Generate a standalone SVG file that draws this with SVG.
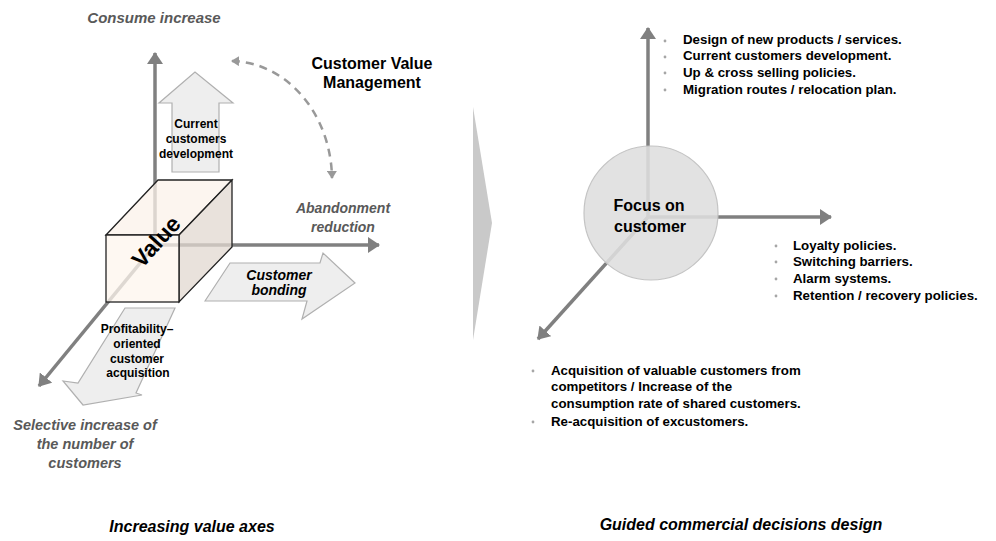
<svg xmlns="http://www.w3.org/2000/svg" width="996" height="541" viewBox="0 0 996 541">
<style>
.axis{stroke:#808080;stroke-width:3.5;fill:none}
.gl{font-family:"Liberation Sans",Arial,sans-serif;font-weight:bold;font-style:italic;fill:#595959}
.tt{font-family:"Liberation Sans",Arial,sans-serif;font-weight:bold;fill:#000}
.it{font-family:"Liberation Sans",Arial,sans-serif;font-weight:bold;font-style:italic;fill:#000}
.bl{font-family:"Liberation Sans",Arial,sans-serif;font-weight:bold;fill:#000;font-size:13.3px}
.dot{fill:#a6a6a6}
.blk{fill:#eeeeee;stroke:#b0b0b0;stroke-width:1.2}
</style>
<defs>
<marker id="ah" viewBox="0 0 12 16" refX="11" refY="8" markerWidth="12" markerHeight="16" markerUnits="userSpaceOnUse" orient="auto">
<path d="M0,0 L12,8 L0,16 z" fill="#808080"/>
</marker>
<marker id="dh" viewBox="0 0 8 10" refX="7" refY="5" markerWidth="8" markerHeight="10" markerUnits="userSpaceOnUse" orient="auto-start-reverse">
<path d="M0,0 L8,5 L0,10 z" fill="#999"/>
</marker>
</defs>

<g id="connectors">
<line class="axis" x1="155" y1="247" x2="155" y2="53" marker-end="url(#ah)"/>
<line class="axis" x1="155" y1="245" x2="379" y2="245" marker-end="url(#ah)"/>
<line class="axis" x1="155" y1="245" x2="39" y2="386" marker-end="url(#ah)"/>
<path d="M232,61 A102,119 0 0 1 332,178" fill="none" stroke="#999" stroke-width="2.5" stroke-dasharray="8 6" marker-start="url(#dh)" marker-end="url(#dh)"/>
<line class="axis" x1="648" y1="217" x2="648" y2="28" marker-end="url(#ah)"/>
<line class="axis" x1="648" y1="217" x2="831" y2="217" marker-end="url(#ah)"/>
<line class="axis" x1="648" y1="217" x2="538" y2="339" marker-end="url(#ah)"/>
</g>

<g id="title-consume"><text class="gl" font-size="15" x="154" y="23" text-anchor="middle">Consume increase</text></g>
<g id="title-cvm">
<text class="tt" font-size="16" x="372" y="69" text-anchor="middle">Customer Value</text>
<text class="tt" font-size="16" x="372" y="88" text-anchor="middle">Management</text>
</g>

<g id="arrow-development">
<polygon class="blk" points="172,172 172,103 159,103 195,72 233,103 219,103 219,172"/>
<text class="tt" font-size="12" x="196" y="128" text-anchor="middle">Current</text>
<text class="tt" font-size="12" x="196" y="143" text-anchor="middle">customers</text>
<text class="tt" font-size="12" x="196" y="158" text-anchor="middle">development</text>
</g>

<g id="cube">
<polygon points="106,235 158,180 232,180 179,235" fill="#fbf2ea" fill-opacity="0.75" stroke="#222" stroke-width="1.3"/>
<polygon points="179,235 232,180 232,247 179,302" fill="#e2d8d0" fill-opacity="0.75" stroke="#222" stroke-width="1.3"/>
<rect x="106" y="235" width="73" height="67" fill="#fdf5ee" fill-opacity="0.75" stroke="#222" stroke-width="1.3"/>
<text class="tt" font-size="23" transform="translate(162,247) rotate(-48)" text-anchor="middle">Value</text>
</g>

<g id="label-abandonment">
<text class="gl" font-size="14" x="343" y="213" text-anchor="middle">Abandonment</text>
<text class="gl" font-size="14" x="343" y="232" text-anchor="middle">reduction</text>
</g>

<g id="arrow-bonding">
<polygon class="blk" points="205,301 230,263 320,263 323,253 355,283 302,319 307,301"/>
<text class="it" font-size="14" x="279" y="280" text-anchor="middle">Customer</text>
<text class="it" font-size="14" x="279" y="295" text-anchor="middle">bonding</text>
</g>

<g id="arrow-acquisition">
<polygon class="blk" points="125,308 175,308 136,393 142,395 83,405 63,381 78,383"/>
<text class="tt" font-size="12" x="137" y="333" text-anchor="middle">Profitability–</text>
<text class="tt" font-size="12" x="137" y="348" text-anchor="middle">oriented</text>
<text class="tt" font-size="12" x="137" y="363" text-anchor="middle">customer</text>
<text class="tt" font-size="12" x="138" y="377" text-anchor="middle">acquisition</text>
</g>

<g id="label-selective">
<text class="gl" font-size="14.5" x="85" y="430" text-anchor="middle">Selective increase of</text>
<text class="gl" font-size="14.5" x="85" y="449" text-anchor="middle">the number of</text>
<text class="gl" font-size="14.5" x="85" y="468" text-anchor="middle">customers</text>
</g>

<g id="caption-left"><text class="it" font-size="16" x="192" y="532" text-anchor="middle">Increasing value axes</text></g>

<g id="chevron"><polygon points="473,107 492,223 473,340" fill="#c9c9c9"/></g>

<g id="focus">
<circle cx="651" cy="213" r="67" fill="#dedede" fill-opacity="0.88" stroke="#c4c4c4" stroke-width="1.2"/>
<text class="tt" font-size="16" x="649" y="211" text-anchor="middle">Focus on</text>
<text class="tt" font-size="16" x="650" y="232" text-anchor="middle">customer</text>
</g>

<g id="bullets-top">
<circle class="dot" cx="665" cy="41" r="1.4"/>
<circle class="dot" cx="665" cy="57" r="1.4"/>
<circle class="dot" cx="665" cy="73" r="1.4"/>
<circle class="dot" cx="665" cy="90" r="1.4"/>
<text class="bl" x="683" y="44">Design of new products / services.</text>
<text class="bl" x="683" y="60">Current customers development.</text>
<text class="bl" x="683" y="77">Up &amp; cross selling policies.</text>
<text class="bl" x="683" y="94">Migration routes / relocation plan.</text>
</g>

<g id="bullets-right">
<circle class="dot" cx="776" cy="246" r="1.4"/>
<circle class="dot" cx="776" cy="262" r="1.4"/>
<circle class="dot" cx="776" cy="279" r="1.4"/>
<circle class="dot" cx="776" cy="296" r="1.4"/>
<text class="bl" x="793" y="250">Loyalty policies.</text>
<text class="bl" x="793" y="266">Switching barriers.</text>
<text class="bl" x="793" y="283">Alarm systems.</text>
<text class="bl" x="793" y="300">Retention / recovery policies.</text>
</g>

<g id="bullets-bottom">
<circle class="dot" cx="533" cy="371" r="1.4"/>
<circle class="dot" cx="533" cy="422" r="1.4"/>
<text class="bl" x="551" y="375">Acquisition of valuable customers from</text>
<text class="bl" x="551" y="391">competitors / Increase of the</text>
<text class="bl" x="551" y="408">consumption rate of shared customers.</text>
<text class="bl" x="551" y="426">Re-acquisition of excustomers.</text>
</g>

<g id="caption-right"><text class="it" font-size="16" x="741" y="530" text-anchor="middle">Guided commercial decisions design</text></g>
</svg>
